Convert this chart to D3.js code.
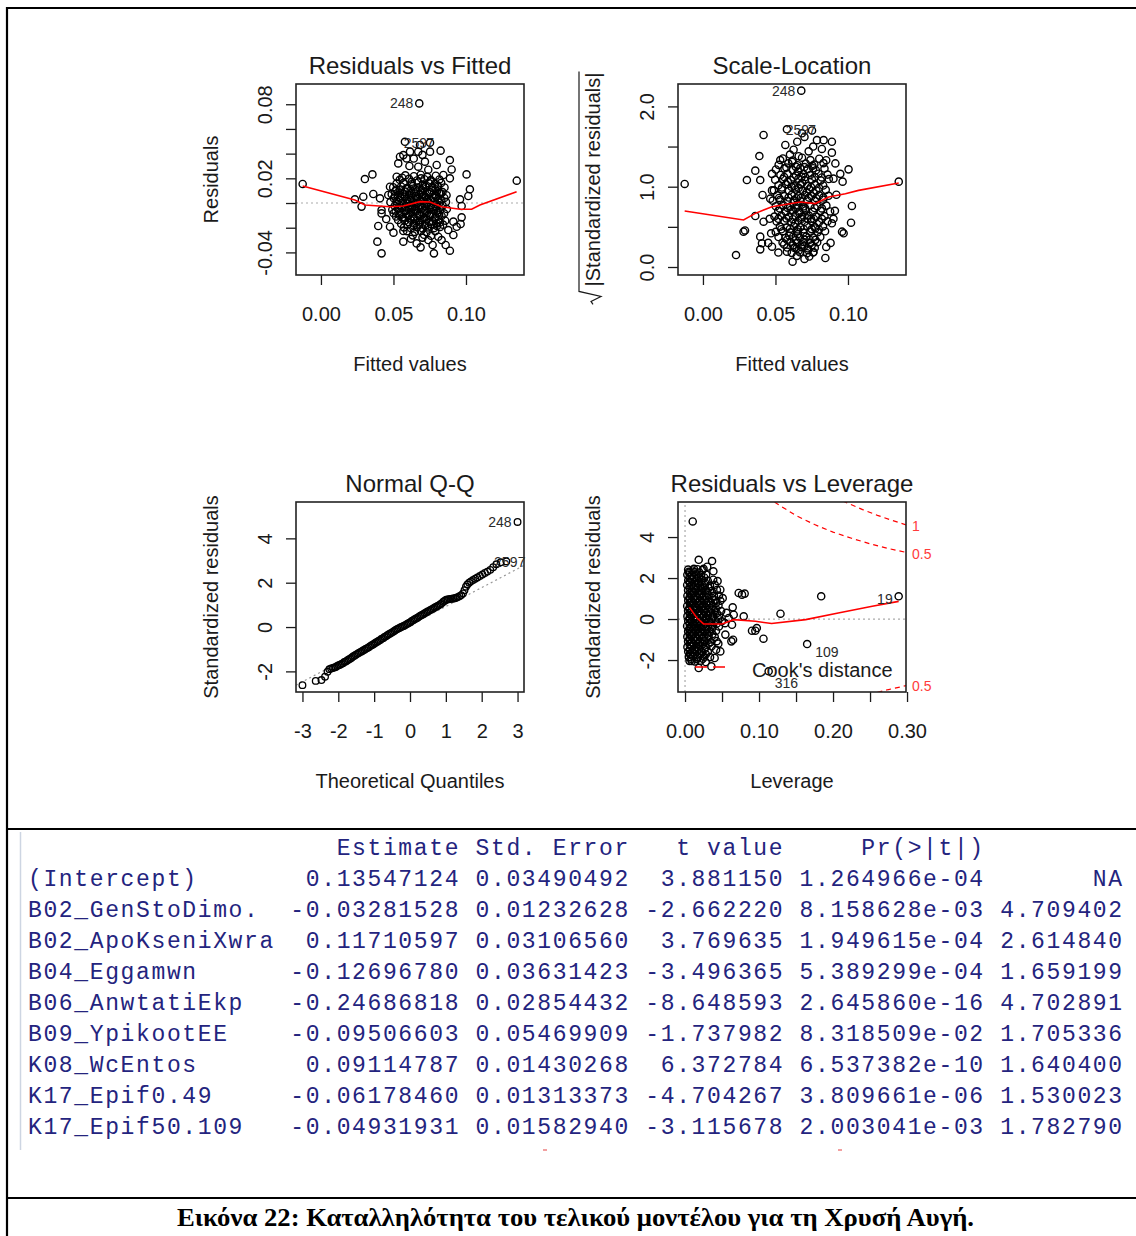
<!DOCTYPE html>
<html>
<head>
<meta charset="utf-8">
<script src="https://cdn.jsdelivr.net/npm/d3@7"></script>
<style>
  body { margin: 0; background: #fff; }
  svg { display: block; }
</style>
</head>
<body>
<svg id="fig" width="1136" height="1236"></svg>
<script>
// ---------- Residuals vs Fitted: [fitted value, residual] ----------
const rvfPoints = [
  [-0.0126,0.0154],[0.1350,0.0181],[0.0303,0.0194],[0.0355,0.0232],[0.0234,0.0030],[0.0280,-0.0029],
  [0.0292,0.0051],[0.0361,0.0073],[0.0395,-0.0186],[0.0389,-0.0313],[0.0418,-0.0408],[0.0779,-0.0408],
  [0.0889,-0.0386],[0.0687,-0.0359],[0.0568,-0.0313],[0.1004,0.0232],[0.1027,0.0111],[0.1016,0.0057],
  [0.0959,0.0030],[0.0970,-0.0024],[0.0963,-0.0170],[0.0970,-0.0116],[0.0889,0.0348],[0.0901,0.0272],
  [0.0825,0.0424],[0.0533,0.0321],[0.0568,0.0388],[0.0678,0.0807],[0.0579,0.0496],[0.0752,0.0489],
  [0.0683,0.0470],[0.0476,-0.0192],[0.0568,-0.0227],[0.0660,-0.0327],[0.0740,-0.0300],[0.0809,-0.0273],
  [0.0832,-0.0300],[0.0913,-0.0259],[0.0936,-0.0192],[0.0878,-0.0219],[0.0913,-0.0151],[0.0545,0.0375],
  [0.0614,0.0416],[0.0671,0.0416],[0.0717,0.0335],[0.0671,0.0294],[0.0591,0.0361],[0.0752,0.0416],
  [0.0798,0.0308],[0.0844,0.0227],[0.0889,0.0200],[0.0522,0.0213],[0.0476,0.0132],[0.0464,0.0065],
  [0.0407,0.0038],[0.0418,-0.0057],[0.0418,-0.0084],[0.0640,0.0360],[0.0700,0.0390],[0.0610,0.0300],
  [0.0740,0.0270],[0.0450,-0.0130],[0.0500,-0.0240],[0.0620,-0.0290],[0.0700,-0.0280],[0.0770,-0.0340],
  [0.0860,-0.0340],
  [0.0582,0.0224],[0.0641,0.0217],[0.0688,0.0229],[0.0733,0.0212],[0.0792,0.0221],
  [0.0543,0.0188],[0.0607,0.0196],[0.0662,0.0183],[0.0713,0.0193],[0.0758,0.0186],[0.0817,0.0191],
  [0.0521,0.0157],[0.0569,0.0163],[0.0624,0.0152],[0.0671,0.0166],[0.0702,0.0149],[0.0744,0.0161],[0.0786,0.0155],[0.0829,0.0163],
  [0.0498,0.0128],[0.0553,0.0134],[0.0592,0.0121],[0.0633,0.0137],[0.0679,0.0126],[0.0721,0.0133],[0.0768,0.0122],[0.0808,0.0131],[0.0852,0.0126],
  [0.0512,0.0096],[0.0543,0.0104],[0.0581,0.0092],[0.0618,0.0101],[0.0657,0.0094],[0.0694,0.0106],[0.0731,0.0093],[0.0763,0.0102],[0.0801,0.0097],[0.0838,0.0089],
  [0.0488,0.0071],[0.0529,0.0064],[0.0567,0.0074],[0.0606,0.0066],[0.0642,0.0077],[0.0679,0.0068],[0.0712,0.0061],[0.0748,0.0073],[0.0788,0.0066],[0.0827,0.0075],[0.0866,0.0063],
  [0.0502,0.0038],[0.0548,0.0044],[0.0589,0.0033],[0.0623,0.0041],[0.0661,0.0035],[0.0697,0.0046],[0.0733,0.0032],[0.0771,0.0043],[0.0809,0.0036],[0.0851,0.0041],
  [0.0479,0.0007],[0.0521,0.0013],[0.0562,0.0004],[0.0598,0.0016],[0.0637,0.0008],[0.0672,0.0002],[0.0709,0.0014],[0.0742,0.0006],[0.0783,0.0011],[0.0818,0.0003],[0.0862,0.0009],
  [0.0508,-0.0024],[0.0541,-0.0016],[0.0583,-0.0028],[0.0619,-0.0019],[0.0652,-0.0026],[0.0688,-0.0014],[0.0722,-0.0023],[0.0759,-0.0017],[0.0797,-0.0029],[0.0839,-0.0021],
  [0.0492,-0.0054],[0.0531,-0.0047],[0.0571,-0.0058],[0.0603,-0.0049],[0.0641,-0.0055],[0.0673,-0.0044],[0.0712,-0.0057],[0.0748,-0.0051],[0.0782,-0.0046],[0.0821,-0.0056],[0.0868,-0.0049],
  [0.0501,-0.0083],[0.0549,-0.0076],[0.0588,-0.0087],[0.0622,-0.0079],[0.0661,-0.0085],[0.0693,-0.0074],[0.0731,-0.0082],[0.0768,-0.0088],[0.0807,-0.0077],[0.0849,-0.0084],
  [0.0518,-0.0109],[0.0561,-0.0116],[0.0602,-0.0106],[0.0639,-0.0113],[0.0681,-0.0104],[0.0713,-0.0117],[0.0752,-0.0108],[0.0791,-0.0114],[0.0832,-0.0105],
  [0.0532,-0.0138],[0.0578,-0.0144],[0.0619,-0.0136],[0.0658,-0.0147],[0.0697,-0.0139],[0.0729,-0.0134],[0.0771,-0.0146],[0.0812,-0.0137],[0.0857,-0.0143],
  [0.0553,-0.0168],[0.0598,-0.0174],[0.0642,-0.0165],[0.0679,-0.0176],[0.0718,-0.0167],[0.0761,-0.0172],[0.0798,-0.0164],[0.0842,-0.0175],
  [0.0572,-0.0197],[0.0621,-0.0204],[0.0663,-0.0195],[0.0702,-0.0206],[0.0739,-0.0198],[0.0781,-0.0203],[0.0822,-0.0194],
  [0.0594,-0.0228],[0.0648,-0.0234],[0.0689,-0.0226],[0.0728,-0.0236],[0.0788,-0.0229],
  [0.0633,-0.0262],[0.0711,-0.0257],[0.0759,-0.0265],
  [0.0560,0.0205],[0.0625,0.0172],[0.0690,0.0200],[0.0755,0.0175],[0.0805,0.0142],[0.0520,0.0110],[0.0600,0.0115],
  [0.0650,0.0112],[0.0705,0.0118],[0.0790,0.0112],[0.0545,0.0085],[0.0625,0.0082],[0.0690,0.0085],[0.0750,0.0088],
  [0.0815,0.0082],[0.0510,0.0055],[0.0580,0.0052],[0.0655,0.0056],[0.0720,0.0050],[0.0795,0.0052],[0.0535,0.0025],
  [0.0610,0.0028],[0.0685,0.0026],[0.0755,0.0024],[0.0830,0.0022],[0.0525,-0.0008],[0.0595,-0.0005],[0.0660,-0.0006],
  [0.0730,-0.0008],[0.0800,-0.0010],[0.0560,-0.0038],[0.0630,-0.0035],[0.0700,-0.0036],[0.0770,-0.0033],[0.0515,-0.0068],
  [0.0585,-0.0065],[0.0655,-0.0068],[0.0720,-0.0066],[0.0795,-0.0064],[0.0540,-0.0096],[0.0610,-0.0094],[0.0680,-0.0092],
  [0.0745,-0.0096],[0.0815,-0.0095],[0.0570,-0.0126],[0.0640,-0.0125],[0.0710,-0.0124],[0.0785,-0.0127],[0.0605,-0.0155],
  [0.0680,-0.0156],[0.0745,-0.0154],[0.0820,-0.0157],[0.0640,-0.0185],[0.0720,-0.0184],[0.0800,-0.0186]
];
const rvfSmooth = [
  [-0.0126,0.0138],[0.0234,0.0024],[0.0303,-0.0016],[0.0476,-0.0030],[0.0568,-0.0024],[0.0683,0.0011],
  [0.0752,0.0008],[0.0832,-0.0030],[0.0959,-0.0051],[0.1039,-0.0051],[0.1096,-0.0016],[0.1349,0.0092]
];

// ---------- Scale-Location: [fitted value, sqrt |standardized residual|] ----------
const slPoints = [
  [0.0678,2.196],[0.0579,1.715],[0.0752,1.700],[0.0683,1.665],[-0.0126,1.034],[0.1350,1.063],[0.0418,1.644],
  [0.0389,1.382],[0.0361,1.200],[0.0303,1.083],[0.0395,1.083],[0.0411,0.897],[0.0361,0.635],[0.0418,0.564],
  [0.0280,0.440],[0.0290,0.455],[0.0395,0.378],[0.0407,0.295],[0.0395,0.220],[0.0228,0.149],[0.0476,0.253],
  [0.0579,0.191],[0.0618,0.066],[0.0648,0.139],[0.0733,0.130],[0.0844,0.112],[0.0889,0.544],[0.0959,0.440],
  [0.0970,0.420],[0.1021,0.552],[0.1027,0.760],[0.1004,1.216],[0.0963,1.063],[0.0947,1.160],[0.0889,1.560],
  [0.0889,1.424],[0.0832,1.580],[0.0786,1.580],[0.0913,1.290],[0.0533,1.332],[0.0568,1.520],[0.0625,1.460],
  [0.0660,1.380],[0.0729,1.440],[0.0476,1.160],[0.0476,0.954],[0.0464,0.851],[0.0700,1.620],[0.0650,1.560],
  [0.0760,1.500],[0.0820,1.470],[0.0600,1.400],[0.0850,1.330],[0.0900,1.100],[0.0920,0.900],[0.0910,0.700],
  [0.0900,0.600],[0.0880,0.300],[0.0850,0.250],[0.0520,0.180],[0.0560,0.280],[0.0470,0.420],[0.0460,0.600],
  [0.0450,0.300],[0.0700,0.100],[0.0760,0.180],
  [0.0551,1.352],[0.0618,1.327],[0.0683,1.361],[0.0741,1.331],[0.0802,1.348],
  [0.0522,1.272],[0.0589,1.291],[0.0652,1.268],[0.0709,1.287],[0.0768,1.276],[0.0831,1.294],
  [0.0503,1.214],[0.0562,1.228],[0.0618,1.207],[0.0671,1.231],[0.0722,1.219],[0.0779,1.205],[0.0838,1.226],
  [0.0534,1.146],[0.0583,1.161],[0.0641,1.139],[0.0693,1.158],[0.0738,1.143],[0.0797,1.162],[0.0859,1.151],
  [0.0498,1.087],[0.0552,1.096],[0.0607,1.082],[0.0658,1.099],[0.0702,1.084],[0.0751,1.091],[0.0812,1.079],[0.0868,1.095],
  [0.0521,1.018],[0.0573,1.031],[0.0629,1.012],[0.0674,1.027],[0.0718,1.009],[0.0771,1.024],[0.0829,1.015],
  [0.0489,0.955],[0.0542,0.968],[0.0593,0.949],[0.0641,0.962],[0.0688,0.951],[0.0733,0.967],[0.0782,0.953],[0.0847,0.961],
  [0.0512,0.893],[0.0561,0.882],[0.0612,0.898],[0.0659,0.884],[0.0703,0.896],[0.0748,0.881],[0.0801,0.892],[0.0866,0.887],
  [0.0481,0.826],[0.0533,0.837],[0.0582,0.821],[0.0628,0.834],[0.0672,0.819],[0.0719,0.832],[0.0772,0.824],[0.0829,0.838],
  [0.0502,0.757],[0.0553,0.771],[0.0601,0.752],[0.0648,0.766],[0.0691,0.754],[0.0738,0.769],[0.0789,0.758],[0.0851,0.764],
  [0.0519,0.698],[0.0571,0.687],[0.0622,0.703],[0.0663,0.691],[0.0709,0.706],[0.0758,0.689],[0.0812,0.699],[0.0877,0.692],
  [0.0493,0.628],[0.0541,0.639],[0.0592,0.622],[0.0639,0.636],[0.0682,0.624],[0.0731,0.641],[0.0779,0.627],[0.0838,0.633],
  [0.0508,0.567],[0.0561,0.574],[0.0609,0.561],[0.0657,0.578],[0.0701,0.563],[0.0749,0.571],[0.0801,0.559],[0.0859,0.569],
  [0.0531,0.503],[0.0578,0.491],[0.0628,0.508],[0.0672,0.496],[0.0719,0.511],[0.0771,0.498],[0.0828,0.506],
  [0.0502,0.437],[0.0551,0.446],[0.0603,0.431],[0.0648,0.443],[0.0692,0.428],[0.0741,0.441],[0.0791,0.433],[0.0842,0.445],
  [0.0521,0.373],[0.0569,0.361],[0.0621,0.377],[0.0668,0.365],[0.0712,0.379],[0.0762,0.368],[0.0809,0.374],
  [0.0549,0.306],[0.0602,0.315],[0.0651,0.301],[0.0693,0.312],[0.0741,0.298],[0.0788,0.309],
  [0.0581,0.243],[0.0632,0.236],[0.0679,0.247],[0.0722,0.233],[0.0771,0.241],
  [0.0612,0.176],[0.0668,0.184],[0.0718,0.171],[0.0762,0.187],
  [0.0655,1.19],[0.0705,1.12],[0.0685,1.05],[0.0635,0.99],[0.0715,0.93],[0.0675,0.86],[0.0625,0.80],[0.0705,0.73],
  [0.0665,0.67],[0.0745,0.60],[0.0635,0.54],[0.0695,0.47],[0.0655,0.41],[0.0735,0.34],[0.0685,0.28],[0.0605,0.71],
  [0.0765,0.92],[0.0585,1.06],[0.0775,0.48],[0.0595,0.39],[0.0725,0.21],[0.0645,0.23],[0.0755,1.26],[0.0615,1.31],
  [0.0575,1.24],[0.0640,1.25],[0.0700,1.245],[0.0760,1.23],
  [0.0560,1.12],[0.0625,1.115],[0.0680,1.125],[0.0770,1.12],[0.0820,1.115],
  [0.0545,0.99],[0.0610,1.00],[0.0660,0.985],[0.0745,0.995],[0.0800,0.985],
  [0.0525,0.86],[0.0590,0.865],[0.0645,0.855],[0.0730,0.865],[0.0780,0.86],[0.0830,0.865],
  [0.0530,0.73],[0.0585,0.735],[0.0640,0.73],[0.0690,0.725],[0.0770,0.735],[0.0820,0.73],
  [0.0520,0.60],[0.0575,0.605],[0.0620,0.595],[0.0680,0.60],[0.0720,0.605],[0.0765,0.598],[0.0820,0.60],
  [0.0540,0.47],[0.0600,0.475],[0.0655,0.468],[0.0750,0.472],[0.0800,0.468],
  [0.0580,0.34],[0.0640,0.335],[0.0700,0.342],[0.0775,0.338],
  [0.0620,0.27],[0.0700,0.265],[0.0750,0.27],[0.0660,0.205]
];
const slSmooth = [
  [-0.0126,0.697],[0.0280,0.585],[0.0361,0.668],[0.0476,0.750],[0.0671,0.810],[0.0775,0.790],
  [0.0867,0.872],[0.0982,0.913],[0.1073,0.954],[0.1350,1.046]
];

// ---------- Normal Q-Q: [theoretical quantile, standardized residual] ----------
const qqPoints = [
  [-3.00,-2.62],[-2.63,-2.43],[-2.47,-2.39],[-2.37,-2.24],[-2.30,-2.02],[-2.25,-1.90],[-2.20,-1.87],[-2.15,-1.85],
  [-2.11,-1.82],[-2.07,-1.80],[-2.03,-1.76],[-1.99,-1.72],[-1.95,-1.70],[-1.91,-1.66],[-1.87,-1.63],[-1.83,-1.58],
  [-1.79,-1.55],[-1.75,-1.51],[-1.71,-1.46],[-1.67,-1.43],[-1.63,-1.38],[-1.59,-1.33],[-1.55,-1.29],[-1.51,-1.25],
  [-1.47,-1.21],[-1.43,-1.17],[-1.39,-1.13],[-1.35,-1.10],[-1.31,-1.06],[-1.27,-1.02],[-1.23,-0.98],[-1.19,-0.95],
  [-1.15,-0.91],[-1.11,-0.86],[-1.07,-0.82],[-1.03,-0.79],[-0.99,-0.74],[-0.95,-0.70],[-0.91,-0.66],[-0.87,-0.62],
  [-0.83,-0.58],[-0.79,-0.53],[-0.75,-0.50],[-0.71,-0.45],[-0.67,-0.41],[-0.63,-0.37],[-0.59,-0.32],[-0.55,-0.29],
  [-0.51,-0.25],[-0.47,-0.21],[-0.43,-0.17],[-0.39,-0.12],[-0.35,-0.09],[-0.31,-0.05],[-0.27,-0.02],[-0.23,0.01],
  [-0.19,0.04],[-0.15,0.07],[-0.11,0.11],[-0.07,0.15],[-0.03,0.18],[0.01,0.22],[0.05,0.27],[0.09,0.31],
  [0.13,0.35],[0.17,0.39],[0.21,0.42],[0.25,0.47],[0.29,0.51],[0.33,0.54],[0.37,0.58],[0.41,0.62],
  [0.45,0.66],[0.49,0.70],[0.53,0.73],[0.57,0.77],[0.61,0.81],[0.65,0.84],[0.69,0.88],[0.73,0.92],
  [0.77,0.95],[0.81,0.99],[0.85,1.03],[0.89,1.08],[0.93,1.14],[0.97,1.19],[1.01,1.23],[1.05,1.24],
  [1.09,1.26],[1.13,1.27],[1.17,1.28],[1.21,1.29],[1.25,1.30],[1.29,1.32],[1.33,1.35],[1.38,1.39],
  [1.43,1.44],[1.48,1.52],[1.52,1.66],[1.56,1.82],[1.60,1.92],[1.65,2.00],[1.70,2.06],[1.76,2.12],
  [1.82,2.18],[1.88,2.24],[1.95,2.30],[2.02,2.37],[2.09,2.44],[2.16,2.50],[2.24,2.58],[2.32,2.70],
  [2.41,2.83],[2.53,2.92],[2.69,2.96],[3.00,4.74]
];
const qqLine = [[-3.18,-2.62],[3.18,2.78]];

// ---------- Residuals vs Leverage: [leverage, standardized residual] ----------
const rvlPoints = [
  [0.0104,4.76],[0.2887,1.11],[0.184,1.11],[0.129,0.26],[0.165,-1.22],[0.106,-0.96],[0.095,-0.57],[0.0905,-0.57],
  [0.097,-0.44],[0.0793,0.13],[0.0806,1.24],[0.077,1.19],[0.0725,1.27],[0.0644,0.57],[0.0658,0.21],[0.0635,-0.28],
  [0.0649,-1.01],[0.0626,-1.09],[0.0545,-0.76],[0.0477,-1.58],[0.0356,-2.31],[0.0185,-2.39],[0.113,-2.55],[0.0185,2.89],
  [0.0365,2.83],[0.0383,2.33],[0.0477,1.43],[0.0509,1.02],[0.0440,1.85],[0.0300,2.55],[0.0250,2.45],[0.0120,2.45],
  [0.0050,2.30],[0.0560,0.30],[0.0540,-0.20],[0.0590,0.05],[0.0450,-1.20],[0.0400,-1.90],[0.0280,-2.10],[0.0090,-2.05],
  [0.0420,-1.50],
  [0.0042,2.41],[0.0103,2.37],[0.0168,2.43],[0.0237,2.39],
  [0.0031,2.16],[0.0089,2.13],[0.0152,2.18],[0.0218,2.14],[0.0286,2.17],
  [0.0043,1.89],[0.0098,1.93],[0.0161,1.88],[0.0232,1.91],[0.0307,1.87],[0.0381,1.92],
  [0.0029,1.66],[0.0082,1.63],[0.0139,1.67],[0.0203,1.64],[0.0268,1.66],[0.0338,1.62],[0.0402,1.67],
  [0.0041,1.41],[0.0093,1.38],[0.0148,1.42],[0.0212,1.39],[0.0281,1.41],[0.0358,1.37],[0.0431,1.42],
  [0.0032,1.14],[0.0081,1.17],[0.0128,1.13],[0.0189,1.16],[0.0251,1.14],[0.0318,1.17],[0.0391,1.13],[0.0459,1.15],
  [0.0043,0.91],[0.0091,0.88],[0.0142,0.92],[0.0201,0.89],[0.0262,0.91],[0.0329,0.87],[0.0408,0.92],[0.0478,0.89],
  [0.0029,0.64],[0.0078,0.67],[0.0131,0.63],[0.0182,0.66],[0.0239,0.64],[0.0302,0.67],[0.0371,0.63],[0.0452,0.66],
  [0.0041,0.41],[0.0089,0.38],[0.0141,0.42],[0.0198,0.39],[0.0261,0.41],[0.0332,0.37],[0.0401,0.42],[0.0488,0.39],
  [0.0032,0.14],[0.0082,0.17],[0.0129,0.13],[0.0191,0.16],[0.0248,0.14],[0.0309,0.17],[0.0382,0.13],[0.0461,0.16],
  [0.0043,-0.09],[0.0092,-0.12],[0.0138,-0.08],[0.0202,-0.11],[0.0259,-0.09],[0.0328,-0.12],[0.0412,-0.08],[0.0497,-0.11],
  [0.0028,-0.34],[0.0079,-0.37],[0.0132,-0.33],[0.0181,-0.36],[0.0242,-0.34],[0.0311,-0.37],[0.0379,-0.33],[0.0458,-0.36],
  [0.0042,-0.59],[0.0091,-0.62],[0.0149,-0.58],[0.0211,-0.61],[0.0271,-0.59],[0.0342,-0.62],[0.0418,-0.58],
  [0.0031,-0.86],[0.0082,-0.83],[0.0133,-0.87],[0.0192,-0.84],[0.0252,-0.86],[0.0319,-0.83],[0.0401,-0.87],
  [0.0041,-1.09],[0.0092,-1.12],[0.0141,-1.08],[0.0203,-1.11],[0.0268,-1.09],[0.0348,-1.12],[0.0428,-1.08],
  [0.0032,-1.36],[0.0083,-1.33],[0.0142,-1.37],[0.0209,-1.34],[0.0281,-1.36],[0.0359,-1.33],
  [0.0043,-1.59],[0.0101,-1.62],[0.0162,-1.58],[0.0229,-1.61],[0.0308,-1.59],
  [0.0052,-1.86],[0.0111,-1.83],[0.0178,-1.87],[0.0259,-1.84],[0.0338,-1.86],
  [0.0061,-2.04],[0.0132,-2.07],[0.0211,-2.03],
  [0.0065,1.0],[0.0060,0.5],[0.0065,0.0],[0.0060,-0.5],[0.0065,-1.0],[0.0110,1.3],[0.0115,0.3],[0.0110,-0.7],
  [0.0120,-1.5],[0.0160,2.0],[0.0170,0.8],[0.0165,-0.2],[0.0170,-1.2],[0.0060,1.8],[0.0065,-1.7],[0.0230,0.6],
  [0.0225,-0.5],[0.0280,0.0],[0.0220,1.5],
  [0.0065,2.28],[0.0128,2.29],[0.0195,2.27],
  [0.0060,2.03],[0.0122,2.04],[0.0188,2.02],[0.0260,2.03],
  [0.0068,1.78],[0.0125,1.79],[0.0192,1.77],[0.0270,1.78],
  [0.0062,1.53],[0.0118,1.54],[0.0180,1.52],[0.0248,1.53],[0.0320,1.52],
  [0.0066,1.28],[0.0120,1.29],[0.0172,1.27],[0.0231,1.28],[0.0300,1.29],[0.0372,1.27],
  [0.0061,1.03],[0.0116,1.04],[0.0168,1.02],[0.0229,1.03],[0.0296,1.04],[0.0365,1.02],
  [0.0064,0.78],[0.0112,0.79],[0.0160,0.77],[0.0218,0.78],[0.0283,0.79],[0.0350,0.77],[0.0420,0.78],
  [0.0060,0.53],[0.0110,0.54],[0.0158,0.52],[0.0213,0.53],[0.0275,0.54],[0.0345,0.52],[0.0415,0.53],
  [0.0063,0.28],[0.0113,0.29],[0.0162,0.27],[0.0221,0.28],[0.0285,0.29],[0.0355,0.27],[0.0430,0.28],
  [0.0060,0.03],[0.0112,0.04],[0.0163,0.02],[0.0228,0.03],[0.0295,0.04],[0.0368,0.02],[0.0448,0.03],
  [0.0062,-0.22],[0.0110,-0.21],[0.0158,-0.23],[0.0218,-0.22],[0.0278,-0.21],[0.0350,-0.23],[0.0430,-0.22],
  [0.0061,-0.47],[0.0114,-0.46],[0.0168,-0.48],[0.0228,-0.47],[0.0292,-0.46],[0.0362,-0.48],
  [0.0063,-0.72],[0.0117,-0.71],[0.0172,-0.73],[0.0232,-0.72],[0.0298,-0.71],[0.0370,-0.73],
  [0.0062,-0.97],[0.0115,-0.96],[0.0170,-0.98],[0.0235,-0.97],[0.0305,-0.96],
  [0.0064,-1.22],[0.0118,-1.21],[0.0178,-1.23],[0.0245,-1.22],[0.0318,-1.21],
  [0.0066,-1.47],[0.0123,-1.46],[0.0188,-1.48],[0.0262,-1.47],
  [0.0072,-1.72],[0.0135,-1.71],[0.0205,-1.73],[0.0282,-1.72],
  [0.0085,-1.95],[0.0160,-1.96],[0.0240,-1.94]
];
const rvlSmooth = [
  [0.0059,0.57],[0.0162,0.05],[0.025,-0.24],[0.050,-0.24],[0.0658,-0.03],[0.095,-0.11],[0.117,-0.22],
  [0.163,-0.03],[0.207,0.29],[0.253,0.62],[0.2887,0.86]
];
// Cook's distance contours: [leverage, standardized residual]
const cookHalfUpper = [[0.121,5.71],[0.125,5.61],[0.15,5.05],[0.175,4.61],[0.20,4.24],[0.225,3.94],[0.25,3.67],[0.275,3.44],[0.30,3.24]];
const cookOneUpper  = [[0.213,5.76],[0.22,5.65],[0.24,5.34],[0.26,5.06],[0.28,4.81],[0.30,4.58]];
const cookHalfLower = [[0.26,-3.58],[0.275,-3.44],[0.30,-3.24]];
const cookLevels = [{text:"1", r:4.58}, {text:"0.5", r:3.24}, {text:"0.5", r:-3.24}];

// ---------- Coefficient table ----------
const coefNames  = ["(Intercept)","B02_GenStoDimo.","B02_ApoKseniXwra","B04_Eggamwn","B06_AnwtatiEkp",
                    "B09_YpikootEE","K08_WcEntos","K17_Epif0.49","K17_Epif50.109"];
const estimates  = [0.13547124,-0.03281528,0.11710597,-0.12696780,-0.24686818,-0.09506603,0.09114787,-0.06178460,-0.04931931];
const stdErrors  = [0.03490492,0.01232628,0.03106560,0.03631423,0.02854432,0.05469909,0.01430268,0.01313373,0.01582940];
const tValues    = [3.881150,-2.662220,3.769635,-3.496365,-8.648593,-1.737982,6.372784,-4.704267,-3.115678];
const pValues    = [1.264966e-04,8.158628e-03,1.949615e-04,5.389299e-04,2.645860e-16,8.318509e-02,6.537382e-10,3.809661e-06,2.003041e-03];
const lastColumn = [null,4.709402,2.614840,1.659199,4.702891,1.705336,1.640400,1.530023,1.782790];
const columnHeaders = ["Estimate","Std. Error","t value","Pr(>|t|)",""];

const captionText = "Εικόνα 22: Καταλληλότητα του τελικού μοντέλου για τη Χρυσή Αυγή.";

// ---------- drawing ----------
const svg = d3.select("#fig");
const SANS = "'Liberation Sans', Arial, Helvetica, sans-serif";
const INK = "#1a1a1a";
const RED = "#ff0000";

svg.append("rect").attr("width", 1136).attr("height", 1236).attr("fill", "#fff");

function panel(cfg) {
  const b = cfg.box;
  const g = svg.append("g");
  const x = d3.scaleLinear().domain(cfg.xDomain).range([b.x0, b.x1]);
  const y = d3.scaleLinear().domain(cfg.yDomain).range([b.y1, b.y0]);
  const clipId = "clip-" + cfg.id;
  svg.append("clipPath").attr("id", clipId)
    .append("rect").attr("x", b.x0).attr("y", b.y0).attr("width", b.x1 - b.x0).attr("height", b.y1 - b.y0);
  const inner = g.append("g").attr("clip-path", `url(#${clipId})`);

  // x axis
  const xa = g.append("g").attr("transform", `translate(0,${b.y1})`)
    .call(d3.axisBottom(x).tickValues(cfg.xTicks).tickSize(10).tickPadding(22)
      .tickFormat((d, i) => cfg.xLabels[i]));
  xa.select(".domain").remove();
  xa.attr("font-size", 20).attr("font-family", SANS);
  xa.selectAll("line").attr("stroke", INK).attr("stroke-width", 1.3);
  xa.selectAll("text").attr("fill", INK);

  // y axis, labels rotated parallel to the axis
  const ya = g.append("g").attr("transform", `translate(${b.x0},0)`)
    .call(d3.axisLeft(y).tickValues(cfg.yTicks).tickSize(10)
      .tickFormat((d, i) => cfg.yLabels[i]));
  ya.select(".domain").remove();
  ya.attr("font-size", 20).attr("font-family", SANS);
  ya.selectAll("line").attr("stroke", INK).attr("stroke-width", 1.3);
  ya.selectAll("text").attr("fill", INK)
    .attr("transform", "rotate(-90)").attr("x", 0).attr("y", -24).attr("dy", null)
    .attr("text-anchor", "middle");

  // titles
  g.append("text").attr("x", (b.x0 + b.x1) / 2).attr("y", b.y0 - 10)
    .attr("text-anchor", "middle").attr("font-family", SANS).attr("font-size", 24).attr("fill", INK)
    .text(cfg.title);
  g.append("text").attr("x", (b.x0 + b.x1) / 2).attr("y", b.y1 + 96)
    .attr("text-anchor", "middle").attr("font-family", SANS).attr("font-size", 20).attr("fill", INK)
    .text(cfg.xTitle);
  const yt = g.append("g").attr("transform", `translate(${b.x0 - 78},${(b.y0 + b.y1) / 2}) rotate(-90)`);
  const ytText = yt.append("text").attr("text-anchor", "middle").attr("font-family", SANS)
    .attr("font-size", 20).attr("fill", INK).text(cfg.yTitle);
  if (cfg.sqrtTitle) {
    const w = ytText.node().getComputedTextLength();
    const x0 = -w / 2, x1 = w / 2;
    yt.append("path")
      .attr("d", `M${x0 - 18},-7 L${x0 - 15},-9 L${x0 - 10},1 L${x0 - 5},-21 L${x1 + 1},-21`)
      .attr("fill", "none").attr("stroke", INK).attr("stroke-width", 1.2);
  }

  return { g, inner, x, y, b };
}

function drawPoints(p, data, r, sw) {
  p.inner.append("g").selectAll("circle").data(data).join("circle")
    .attr("cx", d => p.x(d[0])).attr("cy", d => p.y(d[1])).attr("r", r)
    .attr("fill", "none").attr("stroke", "#000").attr("stroke-width", sw);
}
function drawLine(p, data, color, width, dash) {
  p.inner.append("path").datum(data)
    .attr("d", d3.line().x(d => p.x(d[0])).y(d => p.y(d[1])))
    .attr("fill", "none").attr("stroke", color).attr("stroke-width", width)
    .attr("stroke-dasharray", dash || null);
}
function drawBox(p) {
  p.g.append("rect").attr("x", p.b.x0).attr("y", p.b.y0)
    .attr("width", p.b.x1 - p.b.x0).attr("height", p.b.y1 - p.b.y0)
    .attr("fill", "none").attr("stroke", "#222").attr("stroke-width", 1.6);
}
function idLabel(p, at, text, dx, dy, anchor) {
  p.g.append("text").attr("x", p.x(at[0]) + dx).attr("y", p.y(at[1]) + dy)
    .attr("text-anchor", anchor).attr("font-family", SANS).attr("font-size", 14).attr("fill", "#2a2a2a")
    .text(text);
}

// Residuals vs Fitted
const p1 = panel({
  id: "rvf", box: { x0: 296, x1: 524, y0: 84, y1: 275 },
  xDomain: [-0.0172, 0.1400], yDomain: [-0.0583, 0.0964],
  xTicks: [0, 0.05, 0.10], xLabels: ["0.00", "0.05", "0.10"],
  yTicks: [-0.04, -0.02, 0, 0.02, 0.04, 0.06, 0.08], yLabels: ["-0.04", "", "", "0.02", "", "", "0.08"],
  title: "Residuals vs Fitted", xTitle: "Fitted values", yTitle: "Residuals"
});
drawLine(p1, [[-0.0172, 0], [0.1400, 0]], "#aaa", 1.2, "2,3");
drawPoints(p1, rvfPoints, 3.6, 1.4);
drawLine(p1, rvfSmooth, RED, 1.6);
drawBox(p1);
idLabel(p1, [0.0678, 0.0807], "248", -6, 5, "end");
idLabel(p1, [0.0752, 0.0489], "259", -3, 5, "end");
idLabel(p1, [0.0752, 0.0489], "7", 4, 5, "end");

// Scale-Location
const p2 = panel({
  id: "sl", box: { x0: 678, x1: 906, y0: 84, y1: 275 },
  xDomain: [-0.0172, 0.1400], yDomain: [-0.0996, 2.279],
  xTicks: [0, 0.05, 0.10], xLabels: ["0.00", "0.05", "0.10"],
  yTicks: [0, 0.5, 1.0, 1.5, 2.0], yLabels: ["0.0", "", "1.0", "", "2.0"],
  title: "Scale-Location", xTitle: "Fitted values", yTitle: "|Standardized residuals|", sqrtTitle: true
});
drawPoints(p2, slPoints, 3.6, 1.4);
drawLine(p2, slSmooth, RED, 1.6);
drawBox(p2);
idLabel(p2, [0.0678, 2.196], "248", -6, 5, "end");
idLabel(p2, [0.0752, 1.700], "259", -3, 5, "end");
idLabel(p2, [0.0752, 1.700], "7", 4, 5, "end");

// Normal Q-Q
const p3 = panel({
  id: "qq", box: { x0: 296, x1: 524, y0: 502, y1: 692 },
  xDomain: [-3.18, 3.18], yDomain: [-2.93, 5.64],
  xTicks: [-3, -2, -1, 0, 1, 2, 3], xLabels: ["-3", "-2", "-1", "0", "1", "2", "3"],
  yTicks: [-2, 0, 2, 4], yLabels: ["-2", "0", "2", "4"],
  title: "Normal Q-Q", xTitle: "Theoretical Quantiles", yTitle: "Standardized residuals"
});
drawLine(p3, qqLine, "#999", 1.2, "2,3");
drawPoints(p3, qqPoints, 3.3, 1.3);
drawBox(p3);
idLabel(p3, [3.00, 4.74], "248", -6, 5, "end");
idLabel(p3, [2.69, 2.96], "259", 11, 6, "end");
idLabel(p3, [2.69, 2.96], "7", 19, 6, "end");

// Residuals vs Leverage
const p4 = panel({
  id: "rvl", box: { x0: 678, x1: 906, y0: 502, y1: 692 },
  xDomain: [-0.0095, 0.2986], yDomain: [-3.56, 5.71],
  xTicks: [0, 0.05, 0.10, 0.15, 0.20, 0.25, 0.30], xLabels: ["0.00", "", "0.10", "", "0.20", "", "0.30"],
  yTicks: [-2, 0, 2, 4], yLabels: ["-2", "0", "2", "4"],
  title: "Residuals vs Leverage", xTitle: "Leverage", yTitle: "Standardized residuals"
});
drawLine(p4, [[-0.0095, 0], [0.2986, 0]], "#aaa", 1.2, "2,3");
drawLine(p4, [[0, -3.56], [0, 5.71]], "#aaa", 1.2, "2,3");
drawPoints(p4, rvlPoints, 3.6, 1.4);
drawLine(p4, rvlSmooth, RED, 1.6);
[cookHalfUpper, cookOneUpper, cookHalfLower].forEach(c => drawLine(p4, c, RED, 1.2, "5,4"));
drawBox(p4);
cookLevels.forEach(c => {
  p4.g.append("text").attr("x", p4.b.x1 + 6).attr("y", p4.y(c.r) + 6)
    .attr("font-family", SANS).attr("font-size", 14).attr("fill", "#ff3b3b").text(c.text);
});
idLabel(p4, [0.2887, 1.11], "19", -6, 8, "end");
idLabel(p4, [0.165, -1.22], "109", 8, 13, "start");
idLabel(p4, [0.113, -2.55], "316", 6, 17, "start");
// legend
p4.g.append("line").attr("x1", p4.b.x0 + 17).attr("x2", p4.b.x0 + 52)
  .attr("y1", p4.b.y1 - 25).attr("y2", p4.b.y1 - 25)
  .attr("stroke", RED).attr("stroke-width", 1.3).attr("stroke-dasharray", "12,6");
p4.g.append("text").attr("x", p4.b.x0 + 74).attr("y", p4.b.y1 - 15)
  .attr("font-family", SANS).attr("font-size", 20).attr("fill", INK).text("Cook's distance");

// ---------- table ----------
function sci(v) {
  const [m, e] = v.toExponential(6).split("e");
  const n = +e;
  return m + "e" + (n < 0 ? "-" : "+") + String(Math.abs(n)).padStart(2, "0");
}
const nameWidth = d3.max(coefNames, s => s.length);
function row(name, cells) {
  const widths = [11, 10, 9, 12, 8];
  return name.padEnd(nameWidth, " ") + cells.map((c, i) => " " + c.padStart(widths[i], " ")).join("");
}
const lines = [row("", columnHeaders)].concat(coefNames.map((n, i) => row(n, [
  estimates[i].toFixed(8), stdErrors[i].toFixed(8), tValues[i].toFixed(6), sci(pValues[i]),
  lastColumn[i] === null ? "NA" : lastColumn[i].toFixed(6)
])));
svg.append("line").attr("x1", 20.5).attr("x2", 20.5).attr("y1", 832).attr("y2", 1150)
  .attr("stroke", "#cdd5e2").attr("stroke-width", 1.5);
svg.append("g").selectAll("text").data(lines).join("text")
  .attr("x", 28).attr("y", (d, i) => 855 + i * 31)
  .attr("font-family", "'Liberation Mono', 'Courier New', monospace").attr("font-size", 23)
  .attr("letter-spacing", 1.63)
  .attr("fill", "#24247e").style("white-space", "pre").attr("xml:space", "preserve")
  .text(d => d);
// stray marks below the table
[[543, 1149], [838, 1149]].forEach(([mx, my]) =>
  svg.append("rect").attr("x", mx).attr("y", my).attr("width", 4).attr("height", 2).attr("fill", "#f2a0a0"));

// ---------- frame and caption ----------
const frame = svg.append("g").attr("stroke", "#000").attr("stroke-width", 2.2);
frame.append("line").attr("x1", 6).attr("x2", 1136).attr("y1", 8).attr("y2", 8);
frame.append("line").attr("x1", 7).attr("x2", 7).attr("y1", 7).attr("y2", 1236);
frame.append("line").attr("x1", 6).attr("x2", 1136).attr("y1", 829).attr("y2", 829);
frame.append("line").attr("x1", 6).attr("x2", 1136).attr("y1", 1198).attr("y2", 1198);

svg.append("text").attr("x", 575.5).attr("y", 1226).attr("text-anchor", "middle")
  .attr("font-family", "'Liberation Serif', 'Times New Roman', serif").attr("font-weight", "bold")
  .attr("font-size", 26).attr("textLength", 797).attr("lengthAdjust", "spacingAndGlyphs")
  .attr("fill", "#000").text(captionText);
</script>
</body>
</html>
